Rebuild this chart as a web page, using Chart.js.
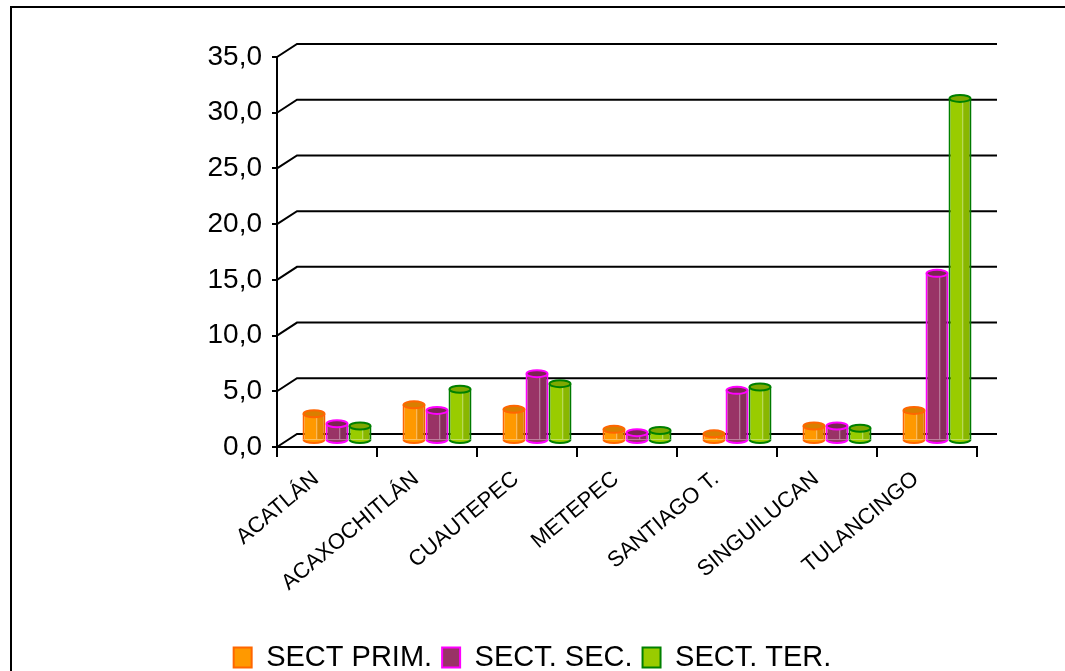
<!DOCTYPE html>
<html>
<head>
<meta charset="utf-8">
<script src="https://cdn.jsdelivr.net/npm/chart.js@4.4.1/dist/chart.umd.min.js"></script>
<style>
  html, body { margin: 0; padding: 0; background: #fff; }
  #wrap { position: relative; width: 1065px; height: 671px; }
</style>
</head>
<body>
<div id="wrap"><canvas id="sectores"></canvas></div>
<script>
const municipios = ["ACATLÁN", "ACAXOCHITLÁN", "CUAUTEPEC", "METEPEC", "SANTIAGO T.", "SINGUILUCAN", "TULANCINGO"];
const sectPrim = [2.4, 3.2, 2.8, 1.0, 0.6, 1.3, 2.7];
const sectSec  = [1.5, 2.7, 6.0, 0.7, 4.5, 1.3, 15.0];
const sectTer  = [1.3, 4.6, 5.1, 0.9, 4.8, 1.1, 30.7];
const yTickLabels = ["0,0", "5,0", "10,0", "15,0", "20,0", "25,0", "30,0", "35,0"];

const DX = 20, DY = 13; // depth of the fake 3d box
const topColors = ["#d97f00", "#7a2650", "#7fa800"];

// back walls, depth offset and cylinder caps
const box3d = {
  id: "box3d",
  beforeDraw(chart) {
    const c = chart.ctx;
    c.save();
    c.strokeStyle = "#000";
    c.lineWidth = 2;
    c.beginPath();
    c.moveTo(11, chart.height);
    c.lineTo(11, 7);
    c.lineTo(chart.width, 7);
    c.stroke();
    c.restore();
  },
  beforeDatasetsDraw(chart) {
    const c = chart.ctx, y = chart.scales.y, a = chart.chartArea;
    c.save();
    c.strokeStyle = "#000";
    c.lineWidth = 2;
    y.ticks.forEach(t => {
      const py = y.getPixelForValue(t.value);
      c.beginPath();
      c.moveTo(a.left, py);
      c.lineTo(a.left + DX, py - DY);
      c.lineTo(a.right + DX, py - DY);
      c.stroke();
    });
    c.restore();
    c.save();
    c.translate(DX / 2, -DY / 2);
  },
  afterDatasetsDraw(chart) {
    const c = chart.ctx;
    chart.data.datasets.forEach((ds, di) => {
      const meta = chart.getDatasetMeta(di);
      meta.data.forEach(el => {
        const p = el.getProps(["x", "y", "base", "width"], true);
        const w = p.width, h = p.base - p.y;
        // shading on the right side
        c.fillStyle = "rgba(0,0,0,0.10)";
        c.fillRect(p.x + w * 0.12, p.y, w * 0.38 - 1, h);
        c.strokeStyle = "rgba(255,255,255,0.45)";
        c.lineWidth = 1;
        c.beginPath();
        c.moveTo(p.x + w * 0.12, p.y + 3);
        c.lineTo(p.x + w * 0.12, p.base);
        c.stroke();
        // bottom
        c.beginPath();
        c.ellipse(p.x, p.base, w / 2 - 1, 3.5, 0, 0, Math.PI);
        c.fillStyle = ds.backgroundColor;
        c.fill();
        c.strokeStyle = ds.borderColor;
        c.lineWidth = 2;
        c.stroke();
        // top cap
        c.beginPath();
        c.ellipse(p.x, p.y, w / 2 - 1, 3.5, 0, 0, Math.PI * 2);
        c.fillStyle = topColors[di];
        c.fill();
        c.stroke();
      });
    });
    c.restore();
  }
};

new Chart(document.getElementById("sectores"), {
  type: "bar",
  data: {
    labels: municipios,
    datasets: [
      { label: "SECT PRIM.", data: sectPrim, backgroundColor: "#ff9900", borderColor: "#ff6600", borderWidth: 2 },
      { label: "SECT. SEC.", data: sectSec, backgroundColor: "#993366", borderColor: "#ff00ff", borderWidth: 2 },
      { label: "SECT. TER.", data: sectTer, backgroundColor: "#99cc00", borderColor: "#008000", borderWidth: 2 },
    ],
  },
  options: {
    responsive: true,
    maintainAspectRatio: false,
    animation: false,
    layout: { padding: { left: 0, right: 0, top: 57, bottom: -11 } },
    datasets: {
      bar: { categoryPercentage: 0.69, barPercentage: 1.0 },
    },
    scales: {
      x: {
        grid: { offset: true, drawOnChartArea: false, tickLength: 10, color: "#000", lineWidth: 2 },
        border: { display: true, color: "#000", width: 2 },
        ticks: {
          color: "#000",
          font: { family: "Liberation Sans", size: 22 },
          minRotation: 40,
          maxRotation: 40,
          autoSkip: false,
          padding: 9,
          labelOffset: -11,
        },
        afterFit: s => { s.height = 186; },
      },
      y: {
        min: 0,
        max: 35,
        grid: { drawOnChartArea: false, tickLength: 5, color: "#000", lineWidth: 2 },
        border: { display: true, color: "#000", width: 2 },
        ticks: {
          stepSize: 5,
          color: "#000",
          padding: 10,
          font: { family: "Liberation Sans", size: 28 },
          callback: (v, i) => yTickLabels[i],
        },
        afterFit: s => { s.width = 277; },
      },
      // empty room on the right for the back wall
      yRight: {
        position: "right",
        grid: { display: false },
        border: { display: false },
        ticks: { display: false },
        afterFit: s => { s.width = 88; },
      },
    },
    plugins: {
      tooltip: { enabled: false },
      legend: {
        position: "bottom",
        labels: {
          color: "#000",
          font: { family: "Liberation Sans", size: 29 },
          boxWidth: 18,
          boxHeight: 20,
          padding: 10,
        },
      },
    },
  },
  plugins: [box3d],
});
</script>
</body>
</html>
